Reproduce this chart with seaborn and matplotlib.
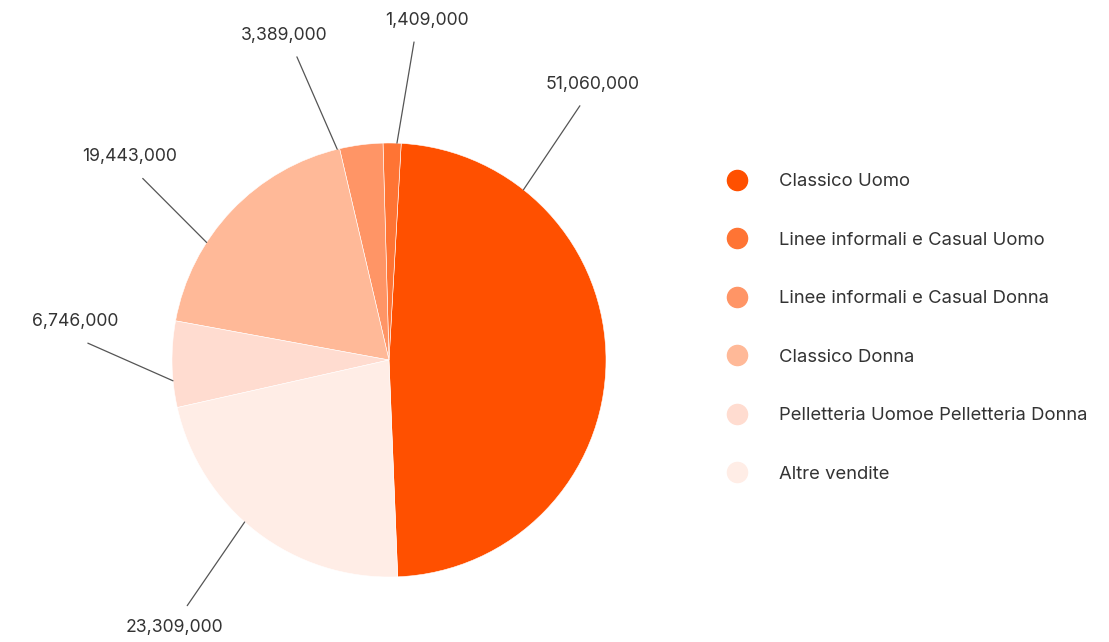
import numpy as np
import matplotlib.pyplot as plt
import seaborn as sns
from matplotlib.lines import Line2D

# dati
categorie = ["Classico Uomo", "Linee informali e Casual Uomo",
             "Linee informali e Casual Donna", "Classico Donna",
             "Pelletteria Uomoe Pelletteria Donna", "Altre vendite"]
valori = [51060000, 1409000, 3389000, 19443000, 6746000, 23309000]
etichette = ["51,060,000", "1,409,000", "3,389,000",
             "19,443,000", "6,746,000", "23,309,000"]

# stile
colori = ["#FF5000", "#FF7434", "#FF9566", "#FFB998", "#FFDCD0", "#FFEDE6"]
# linee guida: angolo sul bordo / angolo all'estremo esterno (gradi)
ang_inizio = [51.7, 87.9, 103.8, 147.2, 185.5, 228.3]
ang_fine = [53.1, 85.5, 106.9, 143.6, 176.8, 230.6]
r_fine = [1.465, 1.47, 1.46, 1.41, 1.39, 1.465]

sns.set_theme(style="white")
plt.rcParams["font.family"] = ["Inter", "DejaVu Sans"]

W, H = 1109, 642
fig = plt.figure(figsize=(W / 100, H / 100), dpi=100)
cx, cy, R = 389, 360, 217
ax = fig.add_axes([(cx - R) / W, (H - cy - R) / H, 2 * R / W, 2 * R / H])

ax.pie(valori, colors=colori, startangle=-87.7, counterclock=True,
       wedgeprops=dict(edgecolor="white", linewidth=0.4))
ax.set_xlim(-1, 1)
ax.set_ylim(-1, 1)
ax.set_aspect("equal")
ax.axis("off")

for testo, a0, a1, r1 in zip(etichette, ang_inizio, ang_fine, r_fine):
    a0, a1 = np.deg2rad(a0), np.deg2rad(a1)
    x1, y1 = r1 * np.cos(a1), r1 * np.sin(a1)
    ax.plot([np.cos(a0), x1], [np.sin(a0), y1], color="#555555", lw=0.9,
            clip_on=False)
    tx = x1 + 0.06 * np.sign(np.cos(a1))
    ty = y1 + 0.10 * np.sign(np.sin(a1))
    ax.text(tx, ty, testo, ha="center", va="center", fontsize=12.7,
            color="#333333", clip_on=False)

handles = [Line2D([0], [0], marker="o", linestyle="", markersize=14.5,
                  markerfacecolor=col, markeredgecolor=col) for col in colori]
fig.legend(handles, categorie, loc="upper left",
           bbox_to_anchor=(727.5 / W, 1 - 173 / H), frameon=False,
           fontsize=13.3, labelcolor="#333333", labelspacing=2.25,
           handlelength=1.0, handletextpad=1.77, borderpad=0, borderaxespad=0)

fig.savefig("out.png", dpi=100)
